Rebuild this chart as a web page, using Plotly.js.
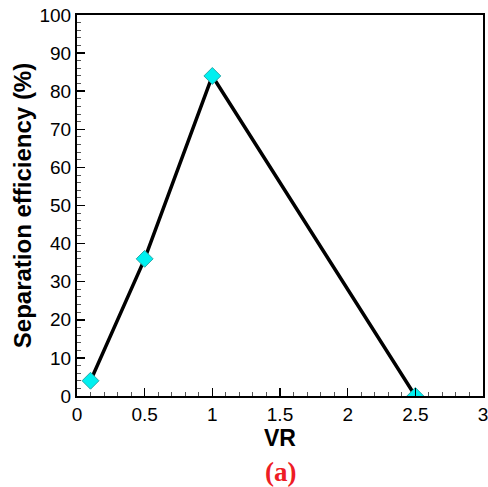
<!DOCTYPE html>
<html>
<head>
<meta charset="utf-8">
<script src="https://cdn.plot.ly/plotly-3.0.1.min.js"></script>
<style>html,body{margin:0;padding:0;background:#fff;}#chart{width:488px;height:487px;}</style>
</head>
<body>
<div id="chart"></div>
<script>
const vr = [0.1, 0.5, 1, 2.5];
const efficiency = [4, 36, 84, 0];
const xTitle = "VR";
const yTitle = "Separation efficiency (%)";
const panelLabel = "(a)";

const trace = {
  x: vr, y: efficiency, type: "scatter", mode: "lines+markers",
  line: {color: "#000", width: 3.5},
  marker: {symbol: "diamond", size: 13, color: "#00f0f0", line: {color: "#2aa8a8", width: 1}},
  cliponaxis: true
};
const axisCommon = {
  showgrid: false, zeroline: false, showline: true, linecolor: "#000", linewidth: 2,
  mirror: true, ticks: "inside", ticklen: 8, tickwidth: 1.5, tickcolor: "#000",
  ticklabeloverflow: "allow",
  tickfont: {family: "Arial, Liberation Sans, sans-serif", size: 19, color: "#000"}
};
const layout = {
  width: 488, height: 487,
  margin: {l: 77, r: 5, t: 15, b: 91},
  paper_bgcolor: "#fff", plot_bgcolor: "#fff",
  showlegend: false,
  xaxis: Object.assign({}, axisCommon, {
    range: [0, 3], dtick: 0.5, tick0: 0,
    minor: {dtick: 0.1, ticks: "inside", ticklen: 4, tickwidth: 1, tickcolor: "#555"},
    title: {text: "<b>" + xTitle + "</b>", font: {family: "Arial, Liberation Sans, sans-serif", size: 23, color: "#000"}, standoff: 6}
  }),
  yaxis: Object.assign({}, axisCommon, {
    range: [0, 100], dtick: 10, tick0: 0,
    minor: {dtick: 2, ticks: "inside", ticklen: 4, tickwidth: 1, tickcolor: "#555"},
    title: {text: "<b>" + yTitle + "</b>", font: {family: "Arial, Liberation Sans, sans-serif", size: 24, color: "#000"}, standoff: 1}
  }),
  annotations: [{
    text: "<b>" + panelLabel + "</b>", xref: "paper", yref: "paper", x: 0.5, y: -0.2,
    xanchor: "center", yanchor: "middle", showarrow: false,
    font: {family: "Liberation Serif, Times New Roman, serif", size: 27, color: "#ee1c25"}
  }]
};
Plotly.newPlot("chart", [trace], layout, {displayModeBar: false, staticPlot: true});
</script>
</body>
</html>
